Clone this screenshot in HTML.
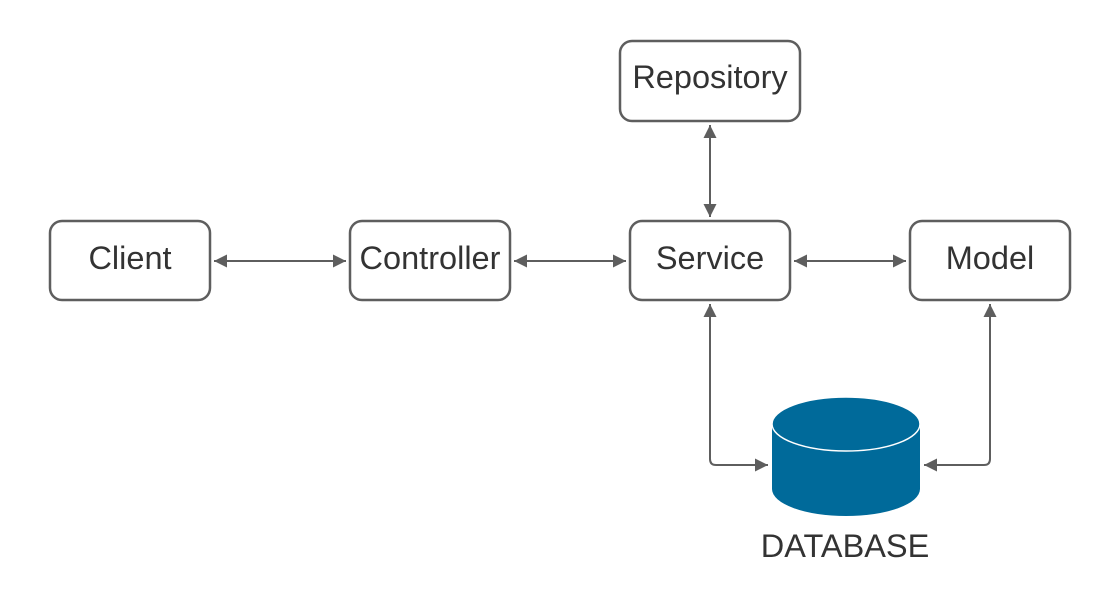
<!DOCTYPE html>
<html><head><style>
html,body{margin:0;padding:0;background:#fff;}
svg text{font-family:"Liberation Sans",sans-serif;fill:#333;}
</style></head><body>
<svg width="1110" height="591" viewBox="0 0 1110 591">
<defs>
<marker id="a" viewBox="0 0 10 10" refX="10" refY="5" markerWidth="17" markerHeight="13" markerUnits="userSpaceOnUse" orient="auto-start-reverse">
<path d="M0,0 L10,5 L0,10 z" fill="#5e5e5e"/></marker>
</defs>
<g fill="#fff" stroke="#5e5e5e" stroke-width="2.5">
<rect x="50" y="221" width="160" height="79" rx="12"/>
<rect x="350" y="221" width="160" height="79" rx="12"/>
<rect x="630" y="221" width="160" height="79" rx="12"/>
<rect x="910" y="221" width="160" height="79" rx="12"/>
<rect x="620" y="41" width="180" height="80" rx="12"/>
</g>
<g stroke="#5e5e5e" stroke-width="2" fill="none" marker-start="url(#a)" marker-end="url(#a)">
<line x1="214" y1="261" x2="346" y2="261"/>
<line x1="514" y1="261" x2="626" y2="261"/>
<line x1="794" y1="261" x2="906" y2="261"/>
<line x1="710" y1="125" x2="710" y2="217"/>
<path d="M710,304 V459 Q710,465 716,465 H768"/>
<path d="M990,304 V459 Q990,465 984,465 H924"/>
</g>
<g>
<path d="M772,424 V489 A74,27 0 0 0 920,489 V424 Z" fill="#006a9a"/>
<ellipse cx="846" cy="424" rx="74" ry="27" fill="#006a9a" stroke="#fff" stroke-width="1.5"/>
</g>
<g font-size="32.5" text-anchor="middle">
<text x="130" y="269">Client</text>
<text x="430" y="269">Controller</text>
<text x="710" y="269">Service</text>
<text x="990" y="269">Model</text>
<text x="710" y="88">Repository</text>
<text x="845" y="557">DATABASE</text>
</g>
</svg>
</body></html>
